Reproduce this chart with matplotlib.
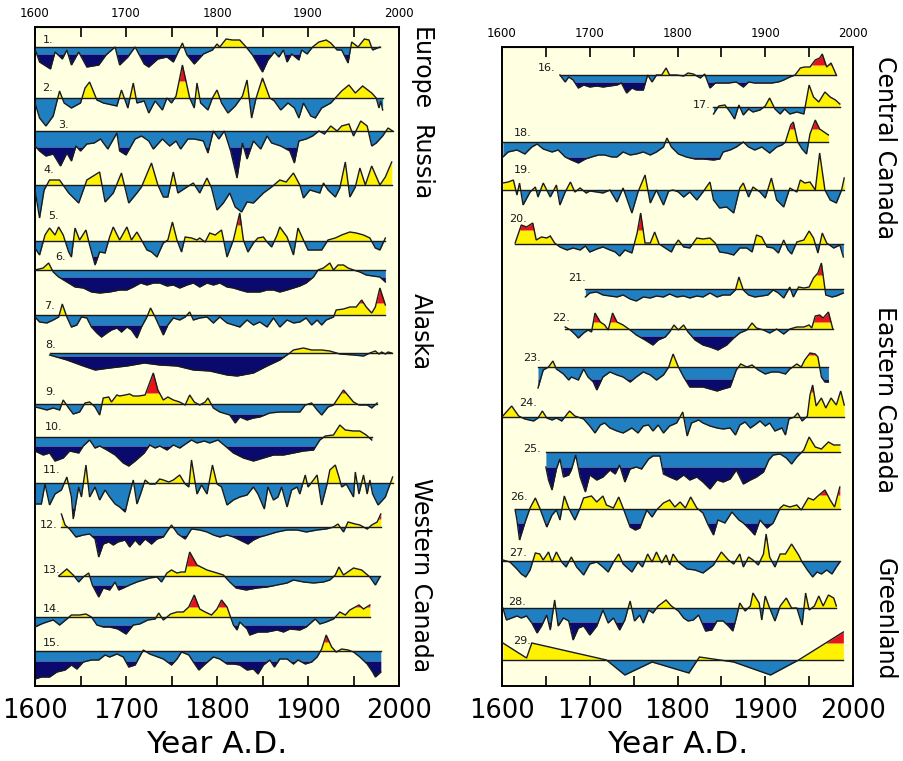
import numpy as np
import matplotlib.pyplot as plt

# colour bands: warm above limit, warm, cool, cold below limit
CREAM = '#ffffe2'
YELLOW = '#fff200'
RED = '#e8141c'
BLUE = '#1f7fc0'
NAVY = '#0a0a6e'
INK = '#1a1a1a'

# ---- left panel: Europe, Russia, Alaska, Western Canada ----
yr01 = [1600, 1605, 1617, 1622, 1630, 1635, 1640, 1648, 1657, 1670, 1678, 1688, 1693, 1702, 1710, 1720, 1725, 1735, 1745, 1752, 1762, 1767, 1775, 1785, 1795, 1800, 1803, 1810, 1817, 1825, 1832, 1839, 1850, 1856, 1863, 1868, 1873, 1877, 1882, 1890, 1893, 1899, 1905, 1912, 1920, 1925, 1932, 1937, 1944, 1948, 1955, 1962, 1967, 1971, 1979]
an01 = [-2, -15, -22, -5, -12, -3, -18, -5, -20, -18, -8, 0, -18, -10, 0, -17, -20, -12, -10, -15, 4, -8, -17, -7, -3, 3, 0, 8, 7, 7, 0, -8, -25, -13, -5, -10, -3, -15, -7, -13, -3, -7, 0, 5, 7, 4, -3, -3, -16, 5, 0, 8, 7, -3, 0]

yr02 = [1600, 1605, 1612, 1620, 1627, 1632, 1640, 1650, 1655, 1660, 1668, 1675, 1690, 1695, 1702, 1708, 1712, 1720, 1725, 1732, 1740, 1745, 1750, 1755, 1762, 1770, 1775, 1778, 1782, 1790, 1795, 1800, 1805, 1812, 1820, 1828, 1833, 1838, 1843, 1850, 1858, 1863, 1870, 1878, 1885, 1890, 1895, 1903, 1908, 1915, 1925, 1930, 1937, 1945, 1952, 1960, 1970, 1975, 1978, 1980, 1982]
an02 = [-5, -20, -28, -18, 7, -5, -10, -5, 10, 16, -2, -5, -8, 8, -10, 15, -5, -3, -15, -3, -12, 0, -5, 2, 33, 0, -10, 15, -5, -12, 0, 8, -5, -15, -8, 2, 18, -20, 0, 20, 0, -3, -12, -5, -10, -20, -5, -18, -20, -10, -5, 0, 7, 13, 5, 12, 5, 0, -10, -3, -12]

yr03 = [1600, 1605, 1612, 1620, 1628, 1635, 1640, 1645, 1650, 1657, 1665, 1672, 1680, 1685, 1690, 1693, 1700, 1710, 1717, 1725, 1730, 1740, 1748, 1755, 1760, 1768, 1775, 1785, 1790, 1796, 1802, 1808, 1815, 1822, 1828, 1833, 1840, 1848, 1855, 1860, 1870, 1880, 1885, 1890, 1898, 1905, 1912, 1918, 1925, 1932, 1937, 1945, 1950, 1958, 1965, 1970, 1975, 1982, 1988, 1993]
an03 = [-15, -20, -25, -23, -35, -22, -30, -15, -20, -13, -12, -8, -18, -10, -2, -20, -24, -8, -5, -10, -18, -8, -15, -10, -18, -8, -8, -10, -22, 0, -8, 0, -20, -47, -12, -28, -10, -18, -5, -12, -15, -20, -32, -10, -8, -5, 0, -3, 5, 0, 5, 7, -5, 10, 5, -15, -12, -5, 3, 0]

yr04 = [1600, 1605, 1610, 1616, 1627, 1637, 1648, 1657, 1671, 1677, 1686, 1695, 1703, 1712, 1717, 1728, 1735, 1741, 1746, 1752, 1757, 1767, 1774, 1781, 1789, 1794, 1800, 1807, 1814, 1820, 1827, 1833, 1840, 1851, 1860, 1869, 1876, 1884, 1891, 1895, 1902, 1913, 1917, 1922, 1930, 1935, 1941, 1946, 1952, 1957, 1963, 1970, 1979, 1985, 1992]
an04 = [-5, -33, -5, 5, 5, -8, -18, 5, 13, -17, -8, 12, -18, -8, -2, 22, 0, -12, -12, 13, -8, -2, 2, -8, 7, -3, -25, -18, -8, -22, -27, -17, -18, -8, -2, 5, 3, 12, 0, -13, -5, -8, 2, -5, -12, -3, 23, -12, -2, 17, 0, 19, 0, 8, 23]

yr05 = [1600, 1605, 1611, 1616, 1622, 1626, 1631, 1637, 1640, 1644, 1649, 1656, 1660, 1666, 1671, 1677, 1682, 1686, 1693, 1701, 1706, 1712, 1717, 1723, 1728, 1734, 1741, 1746, 1751, 1756, 1761, 1765, 1772, 1778, 1781, 1787, 1792, 1798, 1805, 1811, 1818, 1825, 1829, 1834, 1840, 1845, 1851, 1855, 1860, 1866, 1869, 1877, 1884, 1889, 1895, 1900, 1908, 1915, 1922, 1930, 1937, 1946, 1953, 1961, 1968, 1974, 1979, 1985]
an05 = [-7, -14, 6, 13, 6, 14, 6, -11, -16, 13, 1, 11, -4, -24, -11, -12, 4, 14, 1, 14, 1, 9, 1, -9, -11, -16, -2, 1, 19, 1, -11, 4, 3, 1, 3, -1, 8, 6, 11, -16, 1, 28, 1, -11, -2, 3, 4, -1, -6, 6, 14, 4, -14, 13, 1, -9, -9, -9, 1, 3, 6, 9, 8, 6, 3, -7, -9, 3]

yr06 = [1600, 1609, 1615, 1620, 1626, 1635, 1644, 1653, 1662, 1671, 1682, 1693, 1701, 1708, 1716, 1723, 1730, 1737, 1745, 1752, 1759, 1767, 1774, 1781, 1789, 1796, 1803, 1811, 1818, 1825, 1833, 1840, 1847, 1855, 1862, 1869, 1877, 1884, 1891, 1898, 1906, 1911, 1917, 1924, 1928, 1933, 1939, 1944, 1950, 1957, 1964, 1971, 1979, 1985]
an06 = [0, 2, 7, -2, -7, -12, -17, -18, -22, -23, -22, -20, -20, -17, -13, -15, -13, -13, -16, -15, -18, -15, -13, -17, -13, -15, -13, -17, -18, -20, -22, -22, -22, -20, -20, -22, -20, -18, -16, -13, -7, 0, 2, 7, 0, 5, 5, 2, 0, -2, -5, -6, -7, -12]

yr07 = [1600, 1605, 1613, 1620, 1626, 1630, 1635, 1640, 1646, 1651, 1657, 1662, 1668, 1673, 1679, 1684, 1690, 1695, 1701, 1706, 1712, 1717, 1723, 1727, 1732, 1737, 1741, 1746, 1752, 1759, 1765, 1770, 1774, 1781, 1789, 1796, 1803, 1811, 1818, 1825, 1833, 1840, 1847, 1855, 1862, 1869, 1877, 1884, 1891, 1898, 1904, 1910, 1915, 1920, 1928, 1931, 1939, 1946, 1953, 1959, 1964, 1970, 1974, 1979, 1985]
an07 = [-2, -7, -8, -5, -2, 11, -2, -12, -10, -2, -3, -12, -18, -22, -18, -15, -13, -17, -12, -15, -23, -12, -2, 7, -2, -12, -20, -10, -3, -5, -2, 3, -5, -3, -2, -8, -2, -8, -10, -12, -5, -10, -7, -12, -3, -12, -5, -8, -7, -3, -10, -5, -10, -5, -2, 5, 6, 8, 8, 15, 8, 2, 8, 27, 10]

yr08 = [1616, 1635, 1653, 1666, 1682, 1701, 1720, 1737, 1756, 1774, 1792, 1811, 1822, 1840, 1855, 1869, 1880, 1884, 1895, 1904, 1915, 1924, 1935, 1950, 1961, 1968, 1974, 1978, 1981, 1985, 1988, 1992]
an08 = [-2, -7, -13, -17, -15, -13, -10, -12, -13, -17, -18, -22, -23, -20, -13, -7, 0, 3, 5, 3, 3, 2, -1, -2, -3, 0, 2, -1, 1, -1, 1, 0]

yr09 = [1600, 1605, 1613, 1620, 1627, 1631, 1637, 1642, 1649, 1655, 1660, 1666, 1671, 1675, 1681, 1684, 1690, 1693, 1699, 1704, 1708, 1714, 1721, 1730, 1735, 1741, 1746, 1752, 1759, 1765, 1770, 1775, 1781, 1787, 1790, 1796, 1803, 1814, 1820, 1825, 1833, 1840, 1847, 1858, 1869, 1880, 1891, 1897, 1904, 1910, 1915, 1922, 1928, 1939, 1950, 1956, 1965, 1970, 1976]
an09 = [-3, -4, -6, -4, -6, 4, -4, -10, -8, 1, 2, -3, -11, 6, 7, 2, 9, 8, 9, 10, 8, 8, 9, 31, 14, 4, 7, 4, 2, -1, 9, 2, -1, 2, 6, -4, -8, -11, -19, -13, -16, -14, -13, -9, -8, -8, -8, -1, 1, -6, -11, -3, -1, 14, 2, -1, -1, -4, 1]

yr10 = [1600, 1609, 1616, 1622, 1631, 1638, 1648, 1653, 1660, 1666, 1671, 1679, 1688, 1697, 1703, 1710, 1720, 1726, 1732, 1737, 1745, 1752, 1759, 1767, 1772, 1778, 1786, 1792, 1801, 1809, 1818, 1829, 1840, 1851, 1862, 1873, 1884, 1895, 1906, 1913, 1919, 1928, 1935, 1941, 1950, 1957, 1964, 1970]
an10 = [-14, -18, -16, -24, -21, -14, -16, -9, -3, -11, -9, -13, -18, -26, -29, -24, -16, -8, -11, -9, -13, -8, -11, -6, -3, -6, -4, -6, -3, -9, -16, -21, -24, -21, -18, -18, -16, -14, -13, -3, 1, 2, 12, 7, 6, 6, 2, -3]

yr11 = [1600, 1607, 1611, 1616, 1622, 1629, 1635, 1640, 1642, 1648, 1651, 1656, 1660, 1666, 1671, 1677, 1682, 1688, 1693, 1699, 1703, 1708, 1712, 1716, 1721, 1726, 1732, 1737, 1741, 1747, 1752, 1759, 1765, 1769, 1772, 1778, 1783, 1789, 1795, 1800, 1805, 1811, 1818, 1825, 1833, 1840, 1845, 1852, 1856, 1862, 1867, 1871, 1877, 1882, 1888, 1891, 1897, 1900, 1906, 1910, 1915, 1921, 1924, 1930, 1934, 1937, 1942, 1950, 1952, 1956, 1961, 1965, 1968, 1971, 1977, 1985, 1993]
an11 = [-21, -21, -1, -22, -11, -7, 6, -14, -36, -4, -14, 18, -14, -4, -17, -7, -14, -21, -24, -29, -14, 3, -21, -11, 3, -1, -1, 4, 3, 1, 3, 8, -1, -4, 23, -11, -2, -11, 18, -1, -4, -22, -17, -14, -12, -4, -11, -26, -4, -17, -14, -4, -24, -7, -4, -11, 8, -4, 3, 8, -22, -1, 13, 18, 6, -4, -1, -14, 11, -11, 8, -11, 3, -11, -22, -14, 6]

yr12 = [1629, 1633, 1638, 1645, 1653, 1660, 1666, 1670, 1675, 1681, 1686, 1691, 1699, 1704, 1710, 1715, 1721, 1728, 1734, 1741, 1750, 1757, 1765, 1772, 1781, 1789, 1796, 1803, 1811, 1818, 1825, 1834, 1840, 1847, 1855, 1866, 1877, 1888, 1898, 1910, 1920, 1928, 1933, 1939, 1944, 1952, 1957, 1965, 1970, 1976, 1980]
an12 = [13, 2, -2, -10, -8, -7, -12, -30, -17, -15, -18, -15, -13, -20, -13, -18, -12, -17, -12, -10, 2, -7, -12, -2, -3, -5, -8, -10, -8, -10, -13, -17, -13, -10, -8, -5, -3, -3, -5, -3, -2, 0, 3, -5, 5, 3, 2, -2, 2, 5, 13]

yr13 = [1626, 1635, 1642, 1648, 1653, 1659, 1663, 1670, 1675, 1682, 1688, 1692, 1697, 1704, 1712, 1719, 1726, 1734, 1739, 1745, 1750, 1756, 1761, 1765, 1770, 1778, 1789, 1800, 1807, 1814, 1821, 1832, 1844, 1855, 1866, 1877, 1884, 1895, 1906, 1917, 1924, 1930, 1934, 1939, 1950, 1959, 1968, 1974, 1979]
an13 = [0, 7, 1, -6, -1, 3, -9, -21, -12, -14, -6, -14, -12, -9, -6, -4, -2, -1, -6, 3, 6, 3, 4, 4, 24, 11, 6, 3, 1, -6, -12, -14, -12, -11, -9, -7, -4, -6, -7, -6, -4, 1, 9, 1, 8, 6, -1, -9, -1]

yr14 = [1600, 1607, 1613, 1620, 1627, 1635, 1640, 1649, 1656, 1662, 1668, 1675, 1682, 1691, 1700, 1708, 1715, 1724, 1732, 1736, 1741, 1749, 1756, 1763, 1769, 1775, 1781, 1787, 1794, 1800, 1805, 1811, 1818, 1822, 1825, 1833, 1836, 1845, 1855, 1866, 1873, 1880, 1891, 1898, 1908, 1913, 1920, 1928, 1935, 1941, 1946, 1956, 1961, 1968]
an14 = [-10, -7, -5, -3, -8, -2, 2, 2, 3, 0, -8, -10, -10, -12, -17, -8, -7, -3, -2, 4, -3, 3, 5, 5, 10, 22, 8, 5, 2, 8, 17, 10, -8, -13, -5, -12, -18, -15, -15, -13, -15, -12, -13, -10, -2, -7, -5, -2, 5, 2, 7, 12, 8, 12]

yr15 = [1600, 1607, 1616, 1624, 1633, 1640, 1646, 1653, 1662, 1670, 1677, 1682, 1690, 1697, 1703, 1710, 1719, 1726, 1735, 1741, 1750, 1756, 1761, 1769, 1774, 1780, 1787, 1796, 1803, 1811, 1818, 1825, 1833, 1840, 1845, 1851, 1858, 1863, 1869, 1877, 1884, 1889, 1897, 1904, 1910, 1915, 1920, 1926, 1931, 1937, 1944, 1950, 1957, 1965, 1971, 1974, 1980]
an15 = [-28, -26, -26, -21, -19, -14, -18, -11, -9, -9, -4, -6, -3, -6, -16, -14, 1, -3, -6, -8, -14, -8, -1, -4, -11, -19, -13, -6, -8, -13, -13, -14, -19, -18, -23, -14, -9, -16, -8, -8, -13, -9, -13, -11, -6, 2, 16, 4, -1, 2, 1, -1, -6, -13, -21, -26, -21]

# ---- right panel: Central Canada, Eastern Canada, Greenland ----
yr16 = [1666, 1672, 1676, 1681, 1687, 1693, 1700, 1708, 1715, 1723, 1731, 1736, 1742, 1748, 1753, 1761, 1766, 1771, 1776, 1782, 1787, 1791, 1799, 1807, 1812, 1818, 1826, 1831, 1837, 1843, 1850, 1858, 1867, 1875, 1881, 1888, 1898, 1907, 1915, 1921, 1928, 1934, 1940, 1945, 1951, 1957, 1962, 1965, 1970, 1975, 1981]
an16 = [0, -7, -2, -5, -13, -10, -12, -11, -12, -11, -10, -8, -18, -13, -15, -15, 0, -7, 0, 0, 7, 0, 0, -1, 2, 1, -3, 1, -13, -8, -8, -8, -7, -12, -7, -8, -8, -8, -7, -5, -2, 0, 7, 8, 8, 15, 17, 21, 8, 12, 0]

yr17 = [1841, 1847, 1854, 1860, 1865, 1870, 1875, 1881, 1886, 1894, 1900, 1905, 1911, 1917, 1922, 1928, 1936, 1944, 1950, 1955, 1961, 1968, 1974, 1980, 1985]
an17 = [-7, 1, 2, -5, -12, 2, -8, -2, -5, -3, 1, 9, -2, -7, -2, -7, -5, -7, 22, 10, 5, 15, 10, 7, 3]

yr18 = [1601, 1607, 1617, 1626, 1634, 1640, 1647, 1657, 1664, 1672, 1679, 1687, 1695, 1702, 1710, 1717, 1725, 1731, 1738, 1746, 1753, 1761, 1769, 1776, 1784, 1788, 1793, 1801, 1810, 1820, 1829, 1841, 1848, 1852, 1860, 1867, 1875, 1881, 1888, 1896, 1905, 1913, 1919, 1923, 1929, 1932, 1937, 1942, 1947, 1951, 1957, 1962, 1972]
an18 = [-15, -10, -8, -12, -5, -2, -7, -10, -8, -15, -18, -21, -17, -15, -13, -13, -15, -15, -10, -13, -12, -10, -13, -10, -5, 4, -5, -12, -15, -17, -17, -18, -17, -10, -8, -5, 0, -5, -8, -5, -11, -5, -3, 0, 17, 20, 0, -7, -12, 8, 22, 13, 7]

yr19 = [1601, 1607, 1613, 1617, 1620, 1624, 1632, 1638, 1641, 1647, 1655, 1662, 1666, 1672, 1678, 1683, 1689, 1696, 1700, 1708, 1715, 1723, 1731, 1738, 1748, 1755, 1763, 1769, 1776, 1784, 1790, 1795, 1801, 1807, 1814, 1822, 1829, 1837, 1841, 1848, 1856, 1864, 1871, 1875, 1881, 1886, 1894, 1900, 1907, 1913, 1921, 1928, 1936, 1940, 1945, 1951, 1957, 1962, 1968, 1974, 1981, 1987, 1990]
an19 = [7, 8, 10, -5, 7, -15, -2, 3, -7, 7, -7, 5, -15, -2, 8, -2, 2, -3, -1, -2, -3, 0, -12, 2, -23, -2, 15, -13, 0, -15, -1, 0, -2, -7, -2, -10, -2, 8, -10, -18, -17, -23, 2, 7, -7, 3, -2, -8, 12, -10, -17, 2, -2, 10, 7, 8, 0, 37, 0, -10, -13, 0, 12]

yr20 = [1615, 1622, 1628, 1635, 1639, 1645, 1651, 1655, 1660, 1666, 1674, 1681, 1689, 1695, 1700, 1708, 1715, 1723, 1729, 1734, 1740, 1748, 1754, 1758, 1763, 1769, 1774, 1779, 1786, 1793, 1797, 1801, 1807, 1814, 1822, 1829, 1837, 1843, 1848, 1856, 1864, 1871, 1879, 1885, 1890, 1896, 1902, 1909, 1915, 1921, 1926, 1930, 1936, 1944, 1950, 1955, 1960, 1965, 1970, 1978, 1985, 1989]
an20 = [1, 19, 17, 21, 4, 7, 6, 8, 1, -3, -6, -4, -6, -2, -8, -5, -3, -6, -8, -12, -6, -9, 11, 31, 1, 1, 12, 0, -4, -8, -1, 4, -3, -4, 6, 5, 6, 1, -8, -9, -11, -4, -4, -8, 9, 7, -3, -4, -9, 4, -6, -10, 2, 4, 13, 6, -9, 11, 1, -4, -1, -13]

yr21 = [1695, 1700, 1708, 1715, 1723, 1731, 1738, 1746, 1753, 1761, 1769, 1776, 1784, 1791, 1799, 1807, 1814, 1822, 1829, 1837, 1845, 1852, 1860, 1866, 1870, 1875, 1881, 1888, 1896, 1903, 1909, 1915, 1921, 1928, 1932, 1938, 1944, 1950, 1955, 1960, 1964, 1969, 1976, 1981, 1989]
an21 = [-8, -4, -3, -6, -7, -8, -6, -10, -12, -8, -9, -7, -8, -5, -8, -7, -9, -7, -8, -4, -8, -6, -6, -1, 12, -1, -6, -8, -7, -6, -1, -4, -9, 2, -8, 2, 1, 2, 11, 16, 26, -6, -8, -7, -4]

yr22 = [1672, 1678, 1684, 1687, 1693, 1698, 1702, 1706, 1712, 1717, 1721, 1726, 1731, 1738, 1746, 1753, 1763, 1772, 1778, 1786, 1791, 1796, 1801, 1807, 1812, 1820, 1829, 1837, 1846, 1856, 1864, 1871, 1879, 1885, 1890, 1898, 1905, 1913, 1921, 1928, 1936, 1944, 1950, 1953, 1957, 1962, 1966, 1972, 1977]
an22 = [2, -1, -6, -9, -4, -1, -3, 16, 7, 4, -1, 16, 7, 4, -1, -6, -11, -16, -11, -8, -3, 4, -1, 4, -3, -11, -16, -18, -21, -16, -9, -4, -1, 6, 1, -1, -4, 0, -5, 0, 2, 2, 4, 1, 13, 14, 11, 17, 0]

yr23 = [1641, 1647, 1653, 1658, 1662, 1670, 1676, 1679, 1687, 1693, 1698, 1704, 1708, 1715, 1723, 1731, 1738, 1746, 1753, 1761, 1769, 1776, 1784, 1790, 1795, 1801, 1807, 1814, 1822, 1829, 1837, 1845, 1852, 1860, 1867, 1872, 1879, 1885, 1892, 1900, 1907, 1915, 1923, 1928, 1936, 1941, 1945, 1951, 1957, 1960, 1964, 1968, 1972]
an23 = [-21, -3, 0, 6, -2, -7, -13, -10, -13, -2, -10, -15, -23, -10, -5, -8, -10, -15, -10, -5, -8, -13, -8, 0, 13, 0, -10, -20, -20, -20, -22, -24, -22, -20, -3, 3, 0, 2, -3, -7, -5, -5, -7, -2, 3, 0, 7, 14, 13, 10, -10, -15, -15]

yr24 = [1601, 1611, 1619, 1626, 1636, 1641, 1646, 1651, 1657, 1662, 1668, 1677, 1683, 1693, 1700, 1706, 1712, 1717, 1723, 1731, 1738, 1748, 1755, 1761, 1767, 1772, 1778, 1784, 1791, 1799, 1806, 1811, 1816, 1824, 1829, 1837, 1845, 1852, 1860, 1866, 1871, 1877, 1883, 1888, 1894, 1900, 1905, 1911, 1919, 1923, 1927, 1933, 1937, 1942, 1948, 1951, 1954, 1958, 1964, 1969, 1975, 1981, 1986, 1990]
an24 = [1, 11, 1, -2, -4, -1, 6, -1, -3, -1, -4, 6, 1, -2, -9, -16, -8, -6, -11, -14, -16, -11, -16, -9, -8, -14, -8, -16, -9, -6, 5, -19, -6, -3, -6, -9, -11, -12, -11, -18, -8, -5, -11, -8, -4, -9, -6, -14, -11, -18, -2, 0, 4, -4, 1, 22, 32, 11, 19, 9, 19, 12, 26, 12]

yr25 = [1650, 1653, 1657, 1662, 1666, 1670, 1676, 1679, 1684, 1689, 1695, 1700, 1708, 1715, 1723, 1729, 1734, 1740, 1746, 1753, 1759, 1767, 1772, 1780, 1784, 1791, 1799, 1807, 1814, 1822, 1829, 1837, 1845, 1852, 1860, 1867, 1875, 1883, 1890, 1898, 1904, 1909, 1917, 1924, 1930, 1936, 1944, 1950, 1957, 1964, 1972, 1978, 1985]
an25 = [-15, -28, -38, -17, -7, -25, -23, -18, -3, -25, -40, -23, -28, -25, -18, -22, -13, -30, -17, -15, -17, -7, -4, -4, -22, -25, -28, -23, -28, -25, -30, -37, -28, -30, -27, -18, -32, -28, -25, -20, -8, -3, -2, -6, -12, -5, 2, 15, 5, 3, 10, 7, 7]

yr26 = [1615, 1617, 1620, 1626, 1632, 1638, 1643, 1651, 1657, 1662, 1666, 1671, 1676, 1683, 1689, 1693, 1702, 1708, 1715, 1719, 1727, 1733, 1738, 1746, 1752, 1757, 1765, 1771, 1776, 1784, 1791, 1797, 1803, 1809, 1815, 1822, 1829, 1835, 1841, 1846, 1854, 1862, 1870, 1875, 1883, 1888, 1894, 1902, 1909, 1917, 1921, 1928, 1936, 1941, 1949, 1955, 1960, 1968, 1974, 1979, 1985]
an26 = [-1, -11, -31, -14, 1, 11, 1, -18, -6, -1, -11, 13, 1, -11, 1, 11, 13, 7, 13, 4, 1, 12, 1, -18, -21, -19, -1, -8, -1, 6, 9, 2, 7, 1, 12, 1, -4, -16, -26, -11, -14, -3, -11, -14, -21, -26, -11, -19, -14, 1, 4, 2, 4, -1, 11, 9, 13, 19, 9, 2, 22]

yr27 = [1601, 1609, 1617, 1622, 1627, 1632, 1638, 1643, 1647, 1653, 1657, 1662, 1668, 1673, 1679, 1685, 1693, 1700, 1708, 1715, 1721, 1727, 1733, 1738, 1748, 1755, 1760, 1766, 1771, 1776, 1782, 1787, 1791, 1795, 1801, 1811, 1820, 1829, 1841, 1850, 1858, 1864, 1871, 1875, 1881, 1886, 1892, 1898, 1901, 1905, 1911, 1917, 1923, 1930, 1938, 1942, 1948, 1954, 1959, 1964, 1970, 1976, 1981, 1985]
an27 = [1, -1, -8, -13, -16, -9, 8, 7, 1, 9, -1, 9, -1, -6, 4, -6, -14, -3, -1, -6, -11, -1, 7, -3, -11, -1, -6, 7, -1, 9, -2, 6, -4, 7, -1, -8, -9, -12, -4, 9, 1, -3, 7, -6, 4, 1, -4, 7, 27, 4, -6, 7, 7, 17, 6, -1, -9, -16, -11, -13, -9, -13, -6, -1]

yr28 = [1601, 1605, 1611, 1617, 1622, 1628, 1634, 1640, 1645, 1651, 1655, 1660, 1664, 1670, 1676, 1681, 1687, 1693, 1700, 1708, 1715, 1721, 1727, 1734, 1740, 1746, 1751, 1757, 1761, 1767, 1772, 1778, 1787, 1793, 1801, 1807, 1812, 1818, 1824, 1832, 1839, 1845, 1852, 1858, 1863, 1867, 1871, 1877, 1883, 1886, 1893, 1896, 1900, 1905, 1911, 1917, 1924, 1930, 1936, 1942, 1946, 1950, 1956, 1961, 1966, 1972, 1978, 1981]
an28 = [0, -12, -10, -8, -10, -8, -15, -25, -18, -7, -22, 8, -18, -10, -13, -32, -20, -18, -27, -18, -2, -15, -10, -22, -12, 7, -13, -7, -15, -2, -5, 2, 8, 2, -3, -10, -13, -12, -7, -23, -22, -13, -13, -18, -23, -10, 5, -3, 2, 15, 5, -12, 12, 0, -13, 2, 10, 0, 0, -17, 15, -2, 2, 12, 2, 13, 10, 2]

yr29 = [1601, 1628, 1634, 1719, 1740, 1771, 1813, 1825, 1864, 1906, 1938, 1989]
an29 = [17, 2, 17, 0, -15, -2, -13, 3, -2, -15, 0, 28]

# anomaly beyond which the bands turn red (warm) or navy (cold), per record
warm_lim = [10, 17, 12, 30, 16, 10, 12, 6, 11, 15, 30, 8, 10, 10, 9,
            10, 30, 13, 40, 14, 14, 7, 12, 25, 25, 14, 21, 20, 17]
cold_lim = [7, 30, 16, 40, 15, 7, 10, 3, 10, 9, 25, 8, 9, 8, 10,
            7, 20, 15, 30, 20, 20, 7, 12, 25, 15, 14, 25, 14, 20]

years = [yr01, yr02, yr03, yr04, yr05, yr06, yr07, yr08, yr09, yr10,
         yr11, yr12, yr13, yr14, yr15, yr16, yr17, yr18, yr19, yr20,
         yr21, yr22, yr23, yr24, yr25, yr26, yr27, yr28, yr29]
anoms = [an01, an02, an03, an04, an05, an06, an07, an08, an09, an10,
         an11, an12, an13, an14, an15, an16, an17, an18, an19, an20,
         an21, an22, an23, an24, an25, an26, an27, an28, an29]

# layout: zero line of each record (panel pixel rows) and number-label spots
base_left = [47, 98, 131, 185, 241, 270, 315, 353, 404, 437, 483, 527, 576, 617, 651]
base_right = [75, 107, 142, 190, 244, 289, 329, 367, 417, 452, 509, 561, 608, 660]
lab_left = [(1609, 40), (1608, 88), (1625, 125), (1609, 170), (1615, 216),
            (1622, 257), (1610, 306), (1611, 345), (1611, 392), (1611, 427),
            (1609, 470), (1605, 525), (1609, 570), (1609, 609), (1609, 643)]
lab_right = [(1641, 68), (1818, 105), (1613, 133), (1613, 170), (1608, 219),
             (1675, 278), (1657, 318), (1624, 358), (1619, 403), (1624, 449),
             (1609, 497), (1608, 553), (1607, 602), (1613, 641)]

regions_left = [('Europe', 69), ('Russia', 163), ('Alaska', 332), ('Western Canada', 575)]
regions_right = [('Central Canada', 148), ('Eastern Canada', 400), ('Greenland', 619)]

W, H = 904, 761
fig = plt.figure(figsize=(W / 100, H / 100), dpi=100)
ax_l = fig.add_axes([35 / W, 1 - 686 / H, 364 / W, 659 / H])
ax_r = fig.add_axes([502 / W, 1 - 686 / H, 351 / W, 639 / H])


def draw_record(ax, yr, an, base, up, lo):
    yr = np.asarray(yr, float)
    an = np.asarray(an, float)
    xf = np.union1d(np.linspace(yr[0], yr[-1], 3000), yr)
    v = np.interp(xf, yr, an)
    kw = dict(lw=0, zorder=1)
    ax.fill_between(xf, base, base - np.clip(v, 0, up), color=YELLOW, **kw)
    ax.fill_between(xf, base - up, base - np.maximum(v, up), color=RED, **kw)
    ax.fill_between(xf, base, base - np.clip(v, -lo, 0), color=BLUE, **kw)
    ax.fill_between(xf, base + lo, base - np.minimum(v, -lo), color=NAVY, **kw)
    ax.plot([yr[0], yr[-1]], [base, base], color=INK, lw=1.0, zorder=2)
    ax.plot(yr, base - an, color=INK, lw=1.0, zorder=3, solid_joinstyle='miter')


def dress(ax, top, bottom):
    ax.set_facecolor(CREAM)
    ax.set_xlim(1600, 2000)
    ax.set_ylim(bottom, top)
    ax.set_yticks([])
    ax.set_xticks(range(1600, 2001, 100))
    ax.set_xticks(range(1650, 2000, 100), minor=True)
    ax.tick_params(axis='x', which='both', direction='in', length=7, width=1.2,
                   top=True, labelsize=18.5, pad=9)
    ax.set_xlabel('Year A.D.', fontsize=22.5, labelpad=4)
    for s in ax.spines.values():
        s.set_linewidth(1.4)
    sec = ax.secondary_xaxis('top')
    sec.set_xticks(range(1600, 2001, 100))
    sec.tick_params(axis='x', length=0, labelsize=8.5, pad=5)


for i, b in enumerate(base_left):
    draw_record(ax_l, years[i], anoms[i], b, warm_lim[i], cold_lim[i])
    x, y = lab_left[i]
    ax_l.text(x, y, f'{i + 1}.', fontsize=8, ha='left', va='center', color=INK)
for j, b in enumerate(base_right):
    i = j + 15
    draw_record(ax_r, years[i], anoms[i], b, warm_lim[i], cold_lim[i])
    x, y = lab_right[j]
    ax_r.text(x, y, f'{i + 1}.', fontsize=8, ha='left', va='center', color=INK)

dress(ax_l, 27, 686)
dress(ax_r, 47, 686)

for name, y in regions_left:
    fig.text(421 / W, 1 - y / H, name, rotation=270, fontsize=17,
             ha='center', va='center')
for name, y in regions_right:
    fig.text(885 / W, 1 - y / H, name, rotation=270, fontsize=17,
             ha='center', va='center')

fig.savefig('out.png', dpi=100, facecolor='white')
